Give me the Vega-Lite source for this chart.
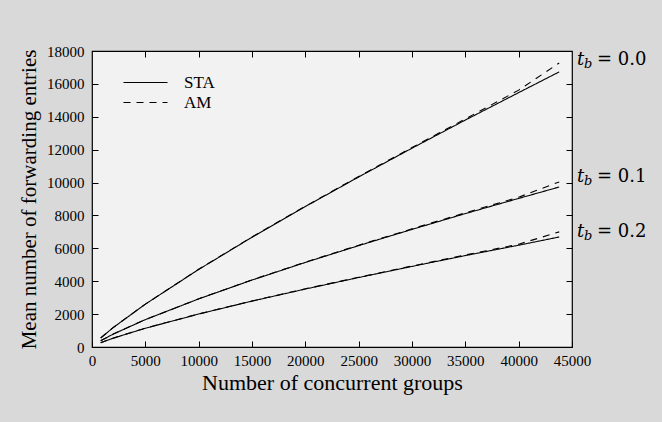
{
  "$schema": "https://vega.github.io/schema/vega-lite/v6.json",
  "autosize": {"type": "none"},
  "padding": {"left": 92, "top": 51, "right": 90, "bottom": 75},
  "width": 480,
  "height": 296,
  "background": "#d9d9d9",
  "config": {
    "view": {"fill": "#f2f2f2", "stroke": "#000000", "strokeWidth": 1.2},
    "font": "Liberation Serif",
    "axis": {"labelFont": "Liberation Serif", "titleFont": "Liberation Serif", "labelColor": "#000", "titleColor": "#000", "tickColor": "#000", "domainColor": "#000", "titleFontWeight": "normal", "grid": false, "labelFlush": false}
  },
  "datasets": {
    "lines": [
      {"groups": 815, "entries": 550, "tb": "0.0", "method": "STA"},
      {"groups": 2000, "entries": 1187, "tb": "0.0", "method": "STA"},
      {"groups": 5000, "entries": 2604, "tb": "0.0", "method": "STA"},
      {"groups": 10000, "entries": 4716, "tb": "0.0", "method": "STA"},
      {"groups": 15000, "entries": 6675, "tb": "0.0", "method": "STA"},
      {"groups": 20000, "entries": 8540, "tb": "0.0", "method": "STA"},
      {"groups": 25000, "entries": 10340, "tb": "0.0", "method": "STA"},
      {"groups": 30000, "entries": 12090, "tb": "0.0", "method": "STA"},
      {"groups": 35000, "entries": 13800, "tb": "0.0", "method": "STA"},
      {"groups": 40000, "entries": 15470, "tb": "0.0", "method": "STA"},
      {"groups": 43800, "entries": 16730, "tb": "0.0", "method": "STA"},
      {"groups": 815, "entries": 550, "tb": "0.0", "method": "AM"},
      {"groups": 2000, "entries": 1190, "tb": "0.0", "method": "AM"},
      {"groups": 5000, "entries": 2610, "tb": "0.0", "method": "AM"},
      {"groups": 10000, "entries": 4725, "tb": "0.0", "method": "AM"},
      {"groups": 15000, "entries": 6690, "tb": "0.0", "method": "AM"},
      {"groups": 20000, "entries": 8560, "tb": "0.0", "method": "AM"},
      {"groups": 25000, "entries": 10370, "tb": "0.0", "method": "AM"},
      {"groups": 30000, "entries": 12130, "tb": "0.0", "method": "AM"},
      {"groups": 35000, "entries": 13870, "tb": "0.0", "method": "AM"},
      {"groups": 40000, "entries": 15620, "tb": "0.0", "method": "AM"},
      {"groups": 43800, "entries": 17270, "tb": "0.0", "method": "AM"},
      {"groups": 815, "entries": 380, "tb": "0.1", "method": "STA"},
      {"groups": 2000, "entries": 789, "tb": "0.1", "method": "STA"},
      {"groups": 5000, "entries": 1664, "tb": "0.1", "method": "STA"},
      {"groups": 10000, "entries": 2925, "tb": "0.1", "method": "STA"},
      {"groups": 15000, "entries": 4070, "tb": "0.1", "method": "STA"},
      {"groups": 20000, "entries": 5142, "tb": "0.1", "method": "STA"},
      {"groups": 25000, "entries": 6165, "tb": "0.1", "method": "STA"},
      {"groups": 30000, "entries": 7152, "tb": "0.1", "method": "STA"},
      {"groups": 35000, "entries": 8113, "tb": "0.1", "method": "STA"},
      {"groups": 40000, "entries": 9036, "tb": "0.1", "method": "STA"},
      {"groups": 43800, "entries": 9730, "tb": "0.1", "method": "STA"},
      {"groups": 815, "entries": 380, "tb": "0.1", "method": "AM"},
      {"groups": 2000, "entries": 791, "tb": "0.1", "method": "AM"},
      {"groups": 5000, "entries": 1668, "tb": "0.1", "method": "AM"},
      {"groups": 10000, "entries": 2932, "tb": "0.1", "method": "AM"},
      {"groups": 15000, "entries": 4082, "tb": "0.1", "method": "AM"},
      {"groups": 20000, "entries": 5160, "tb": "0.1", "method": "AM"},
      {"groups": 25000, "entries": 6190, "tb": "0.1", "method": "AM"},
      {"groups": 30000, "entries": 7185, "tb": "0.1", "method": "AM"},
      {"groups": 35000, "entries": 8160, "tb": "0.1", "method": "AM"},
      {"groups": 40000, "entries": 9110, "tb": "0.1", "method": "AM"},
      {"groups": 43800, "entries": 10040, "tb": "0.1", "method": "AM"},
      {"groups": 815, "entries": 260, "tb": "0.2", "method": "STA"},
      {"groups": 2000, "entries": 540, "tb": "0.2", "method": "STA"},
      {"groups": 5000, "entries": 1140, "tb": "0.2", "method": "STA"},
      {"groups": 10000, "entries": 2005, "tb": "0.2", "method": "STA"},
      {"groups": 15000, "entries": 2790, "tb": "0.2", "method": "STA"},
      {"groups": 20000, "entries": 3525, "tb": "0.2", "method": "STA"},
      {"groups": 25000, "entries": 4225, "tb": "0.2", "method": "STA"},
      {"groups": 30000, "entries": 4900, "tb": "0.2", "method": "STA"},
      {"groups": 35000, "entries": 5560, "tb": "0.2", "method": "STA"},
      {"groups": 40000, "entries": 6190, "tb": "0.2", "method": "STA"},
      {"groups": 43800, "entries": 6690, "tb": "0.2", "method": "STA"},
      {"groups": 815, "entries": 260, "tb": "0.2", "method": "AM"},
      {"groups": 2000, "entries": 541, "tb": "0.2", "method": "AM"},
      {"groups": 5000, "entries": 1143, "tb": "0.2", "method": "AM"},
      {"groups": 10000, "entries": 2010, "tb": "0.2", "method": "AM"},
      {"groups": 15000, "entries": 2798, "tb": "0.2", "method": "AM"},
      {"groups": 20000, "entries": 3537, "tb": "0.2", "method": "AM"},
      {"groups": 25000, "entries": 4242, "tb": "0.2", "method": "AM"},
      {"groups": 30000, "entries": 4925, "tb": "0.2", "method": "AM"},
      {"groups": 35000, "entries": 5595, "tb": "0.2", "method": "AM"},
      {"groups": 40000, "entries": 6250, "tb": "0.2", "method": "AM"},
      {"groups": 43800, "entries": 7000, "tb": "0.2", "method": "AM"}
    ],
    "labels": [
      {"groups": 45000, "entries": 17460, "sub": "b", "main": "t", "rest": "= 0.0"},
      {"groups": 45000, "entries": 10340, "sub": "b", "main": "t", "rest": "= 0.1"},
      {"groups": 45000, "entries": 7000, "sub": "b", "main": "t", "rest": "= 0.2"}
    ]
  },
  "resolve": {"axis": {"x": "independent", "y": "independent"}},
  "layer": [
    {
      "data": {"name": "lines"},
      "mark": {"type": "line", "color": "#000000", "strokeWidth": 1.1},
      "encoding": {
        "x": {"field": "groups", "type": "quantitative", "scale": {"domain": [0, 45000], "nice": false},
          "axis": {"orient": "bottom", "values": [0, 5000, 10000, 15000, 20000, 25000, 30000, 35000, 40000, 45000], "format": "d", "tickSize": -6, "labelPadding": 12, "labelFontSize": 15, "title": "Number of concurrent groups", "titleFontSize": 22, "titlePadding": 4, "domain": false}},
        "y": {"field": "entries", "type": "quantitative", "scale": {"domain": [0, 18000], "nice": false},
          "axis": {"orient": "left", "values": [0, 2000, 4000, 6000, 8000, 10000, 12000, 14000, 16000, 18000], "format": "d", "tickSize": -6, "labelPadding": 14, "labelFontSize": 15, "title": "Mean number of forwarding entries", "titleFontSize": 21, "titlePadding": 7, "domain": false}},
        "detail": {"field": "tb"},
        "strokeDash": {"field": "method", "type": "nominal", "scale": {"domain": ["STA", "AM"], "range": [[1, 0], [7, 6]]},
          "legend": {"title": null, "orient": "none", "legendX": 45, "legendY": 23, "symbolType": "M-4,0H4", "symbolSize": 121, "symbolStrokeColor": "#000", "symbolStrokeWidth": 1.1, "labelFont": "Liberation Serif", "labelFontSize": 17, "labelColor": "#000", "labelOffset": 30, "rowPadding": 2}}
      }
    },
    {
      "data": {"name": "labels"},
      "mark": {"type": "text", "align": "left", "baseline": "middle", "font": "DejaVu Serif", "fontStyle": "italic", "fontSize": 18, "dx": 5, "clip": false},
      "encoding": {
        "x": {"field": "groups", "type": "quantitative", "scale": {"domain": [0, 45000], "nice": false},
          "axis": {"orient": "top", "values": [5000, 10000, 15000, 20000, 25000, 30000, 35000, 40000], "labels": false, "tickSize": -6, "title": null, "domain": false}},
        "y": {"field": "entries", "type": "quantitative", "scale": {"domain": [0, 18000], "nice": false},
          "axis": {"orient": "right", "values": [2000, 4000, 6000, 8000, 10000, 12000, 14000, 16000], "labels": false, "tickSize": -6, "title": null, "domain": false}},
        "text": {"field": "main"}
      }
    },
    {
      "data": {"name": "labels"},
      "mark": {"type": "text", "align": "left", "baseline": "middle", "font": "DejaVu Serif", "fontStyle": "italic", "fontSize": 13, "dx": 12, "dy": 4, "clip": false},
      "encoding": {
        "x": {"field": "groups", "type": "quantitative", "axis": null},
        "y": {"field": "entries", "type": "quantitative", "axis": null},
        "text": {"field": "sub"}
      }
    },
    {
      "data": {"name": "labels"},
      "mark": {"type": "text", "align": "left", "baseline": "middle", "font": "DejaVu Serif", "fontSize": 18, "dx": 25, "clip": false},
      "encoding": {
        "x": {"field": "groups", "type": "quantitative", "axis": null},
        "y": {"field": "entries", "type": "quantitative", "axis": null},
        "text": {"field": "rest"}
      }
    }
  ]
}
